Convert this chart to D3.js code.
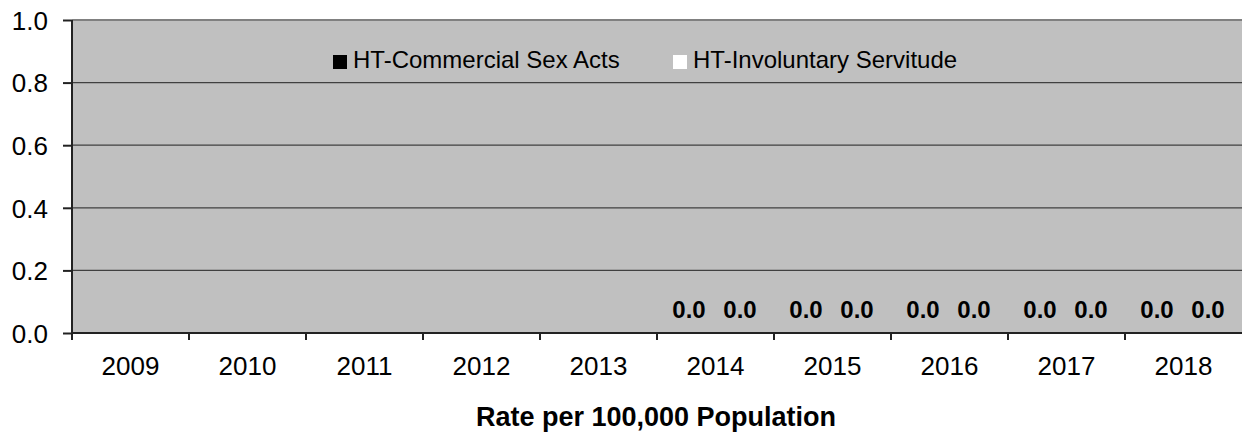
<!DOCTYPE html>
<meta charset="utf-8">
<style>

    body {
        margin: 0;
        background: #fff;
        font-family: "Liberation Sans", Arial, sans-serif;
    }

    text {
        fill: #000;
    }

    .grid line {
        stroke: #404040;
        stroke-width: 1.3;
    }

    .axis path, .axis line {
        stroke: #222;
        stroke-width: 2;
    }

</style>
<body>
<script src="https://cdn.jsdelivr.net/npm/d3@7/dist/d3.min.js"></script>
<script>

    var years = ["2009", "2010", "2011", "2012", "2013", "2014", "2015", "2016", "2017", "2018"];
    var seriesNames = ["HT-Commercial Sex Acts", "HT-Involuntary Servitude"];
    var commercialSex = [null, null, null, null, null, 0.0, 0.0, 0.0, 0.0, 0.0];
    var involuntaryServitude = [null, null, null, null, null, 0.0, 0.0, 0.0, 0.0, 0.0];
    var yTicks = [0, 0.2, 0.4, 0.6, 0.8, 1.0];
    var seriesColors = ["#000000", "#ffffff"];

    var margin = {top: 20, right: 0, bottom: 100, left: 72},
            width = 1242 - margin.left - margin.right,
            height = 433 - margin.top - margin.bottom;

    var data = years.map(function(y, i) {
        return {year: y, values: [commercialSex[i], involuntaryServitude[i]]};
    });

    var x = d3.scaleBand()
            .domain(years)
            .range([0, width]);

    var x1 = d3.scaleBand()
            .domain([0, 1])
            .range([x.bandwidth() / 2 - 52, x.bandwidth() / 2 + 50]);

    var y = d3.scaleLinear()
            .domain([0, 1])
            .range([height, 0]);

    var svg = d3.select("body").append("svg")
            .attr("width", 1242)
            .attr("height", 433)
            .append("g")
            .attr("transform", "translate(" + margin.left + "," + margin.top + ")");

    // plot background
    svg.append("rect")
            .attr("width", width)
            .attr("height", height)
            .attr("fill", "#c0c0c0");

    // gridlines
    svg.append("g")
            .attr("class", "grid")
            .selectAll("line")
            .data(yTicks.filter(function(d) { return d > 0 && d < 1; }))
            .enter().append("line")
            .attr("x1", 0)
            .attr("x2", width)
            .attr("y1", function(d) { return y(d); })
            .attr("y2", function(d) { return y(d); });

    svg.append("line")
            .attr("x1", 0)
            .attr("x2", width)
            .attr("y1", y(1))
            .attr("y2", y(1))
            .attr("stroke", "#808080")
            .attr("stroke-width", 2);

    // bars (all zero, so flat)
    var groups = svg.selectAll("g.year")
            .data(data)
            .enter().append("g")
            .attr("class", "year")
            .attr("transform", function(d) { return "translate(" + x(d.year) + ",0)"; });

    groups.selectAll("rect")
            .data(function(d) { return d.values.map(function(v, i) { return {i: i, v: v}; }).filter(function(e) { return e.v !== null; }); })
            .enter().append("rect")
            .attr("x", function(d) { return x1(d.i); })
            .attr("width", x1.bandwidth())
            .attr("y", function(d) { return y(d.v); })
            .attr("height", function(d) { return height - y(d.v); })
            .attr("fill", function(d) { return seriesColors[d.i]; });

    groups.selectAll("text")
            .data(function(d) { return d.values.map(function(v, i) { return {i: i, v: v}; }).filter(function(e) { return e.v !== null; }); })
            .enter().append("text")
            .attr("x", function(d) { return x1(d.i) + x1.bandwidth() / 2; })
            .attr("y", function(d) { return y(d.v) - 15; })
            .attr("text-anchor", "middle")
            .style("font-size", "24px")
            .style("font-weight", "bold")
            .text(function(d) { return d3.format(".1f")(d.v); });

    // y axis
    var yAxis = d3.axisLeft(y)
            .tickValues(yTicks)
            .tickFormat(d3.format(".1f"))
            .tickSize(9)
            .tickPadding(15);

    svg.append("g")
            .attr("class", "y axis")
            .call(yAxis)
            .call(function(g) { g.select(".domain").attr("d", "M0," + (height + 7) + "V0"); })
            .selectAll("text")
            .style("font-size", "26px")
            .attr("dy", "0.36em");

    // x axis: ticks on category boundaries
    svg.append("g")
            .attr("class", "x axis")
            .attr("transform", "translate(0," + height + ")")
            .call(function(g) {
                g.append("path").attr("d", "M0,0H" + width).attr("stroke", "#222").attr("stroke-width", 2);
                g.selectAll("line.tk")
                        .data(years.slice(1))
                        .enter().append("line")
                        .attr("class", "tk")
                        .attr("x1", function(d) { return x(d); })
                        .attr("x2", function(d) { return x(d); })
                        .attr("y1", 0)
                        .attr("y2", 7);
                g.selectAll("text")
                        .data(years)
                        .enter().append("text")
                        .attr("x", function(d) { return x(d) + x.bandwidth() / 2; })
                        .attr("y", 42)
                        .attr("text-anchor", "middle")
                        .style("font-size", "26px")
                        .text(function(d) { return d; });
            });

    svg.append("text")
            .attr("x", (476 + 836) / 2 - margin.left)
            .attr("y", 406)
            .attr("text-anchor", "middle")
            .style("font-size", "27px")
            .style("font-weight", "bold")
            .text("Rate per 100,000 Population");

    // legend
    var legendX = [333, 673];
    var legend = svg.selectAll("g.legend")
            .data(seriesNames)
            .enter().append("g")
            .attr("class", "legend")
            .attr("transform", function(d, i) { return "translate(" + (legendX[i] - margin.left) + "," + (55 - margin.top) + ")"; });

    legend.append("rect")
            .attr("width", 14)
            .attr("height", 14)
            .attr("fill", function(d, i) { return seriesColors[i]; });

    legend.append("text")
            .attr("x", 20)
            .attr("y", 13)
            .style("font-size", "24px")
            .text(function(d) { return d; });

</script>
